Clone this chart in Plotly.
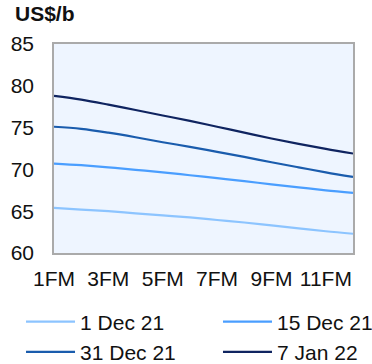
import plotly.graph_objects as go

months = ["1FM", "2FM", "3FM", "4FM", "5FM", "6FM", "7FM", "8FM", "9FM", "10FM", "11FM", "12FM"]
tick_labels = ["1FM", "3FM", "5FM", "7FM", "9FM", "11FM"]

dec01 = [65.4, 65.2, 65.0, 64.75, 64.5, 64.25, 63.95, 63.65, 63.3, 62.95, 62.6, 62.3]
dec15 = [70.7, 70.5, 70.25, 69.95, 69.65, 69.3, 68.95, 68.6, 68.2, 67.85, 67.5, 67.2]
dec31 = [75.1, 74.85, 74.4, 73.85, 73.25, 72.7, 72.1, 71.5, 70.85, 70.25, 69.65, 69.1]
jan07 = [78.8, 78.35, 77.75, 77.1, 76.45, 75.8, 75.1, 74.4, 73.7, 73.05, 72.45, 71.9]

series = [
    ("1 Dec 21", dec01, "#8CC4FF", "legend"),
    ("15 Dec 21", dec15, "#4A9EFF", "legend2"),
    ("31 Dec 21", dec31, "#1A5CAD", "legend"),
    ("7 Jan 22", jan07, "#0F2460", "legend2"),
]

FONT = "Liberation Sans, Arial, sans-serif"
FS = 21

fig = go.Figure()
for name, vals, col, lg in series:
    fig.add_trace(go.Scatter(x=months, y=vals, name=name, mode="lines", legend=lg,
                             line=dict(color=col, width=2.2, shape="spline", smoothing=1.0)))

legend_common = dict(orientation="v", xref="container", yref="container",
                     xanchor="left", yanchor="top", itemwidth=49, tracegroupgap=0,
                     font=dict(size=FS, family=FONT, color="#111111"),
                     bgcolor="rgba(0,0,0,0)")

fig.update_layout(
    width=372, height=364,
    margin=dict(l=54, r=19, t=44, b=111, autoexpand=False),
    paper_bgcolor="white",
    plot_bgcolor="#EEF5FF",
    font=dict(family=FONT, size=FS, color="#111111"),
    showlegend=True,
    legend=dict(x=0.0565, y=0.172, **legend_common),
    legend2=dict(x=0.586, y=0.172, **legend_common),
    annotations=[dict(text="<b>US$/b</b>", xref="paper", yref="paper",
                      x=-0.137, y=1.144, xanchor="left", yanchor="middle",
                      showarrow=False, font=dict(size=FS, family=FONT, color="#111111"))],
)
fig.update_xaxes(
    type="category", categoryorder="array", categoryarray=months,
    range=[0, 11], tickmode="array", tickvals=tick_labels, ticktext=tick_labels,
    showgrid=False, zeroline=False, showline=True, linecolor="#AAAAAA", linewidth=1.5,
    mirror=True, ticks="", ticklabelstandoff=6, tickangle=0, automargin=False,
    tickfont=dict(size=FS, family=FONT, color="#111111"),
)
fig.update_yaxes(
    range=[60, 85], tickvals=[60, 65, 70, 75, 80, 85],
    showgrid=False, zeroline=False, showline=True, linecolor="#AAAAAA", linewidth=1.5,
    mirror=True, ticks="", ticklabelstandoff=14, automargin=False,
    tickfont=dict(size=FS, family=FONT, color="#111111"),
)

fig.write_html("out.html")
